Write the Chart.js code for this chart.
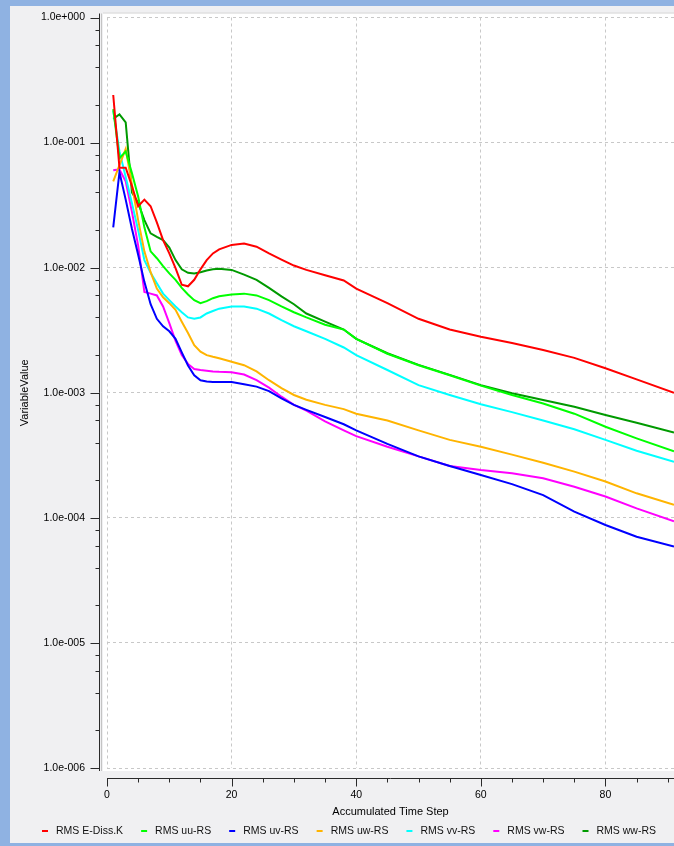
<!DOCTYPE html>
<html lang="en">
<head>
  <meta charset="UTF-8">
  <title>RMS Residuals</title>
  <script src="https://cdn.jsdelivr.net/npm/chart.js"></script>
  <style>
    html, body {
      margin: 0;
      padding: 0;
      background: #f0f0f0;
    }
    canvas {
      display: block;
    }
  </style>
</head>
<body>
  <canvas id="residuals" width="674" height="846"></canvas>

  <script>
    // accumulated time steps where residuals were sampled
    const steps = [1, 2, 3, 4, 5, 6, 7, 8, 9, 10, 11, 12, 13, 14, 15, 16, 17, 18, 20, 22, 24, 26, 28, 30,
                   32, 35, 38, 40, 45, 50, 55, 60, 65, 70, 75, 80, 85, 91];

    const eDissK = [0.24, 0.063, 0.063, 0.045, 0.031, 0.035, 0.031, 0.023, 0.0166, 0.013, 0.0099, 0.0073,
                    0.0071, 0.0080, 0.0097, 0.0115, 0.013, 0.014, 0.0152, 0.0156, 0.0147, 0.013, 0.0116, 0.0104,
                    0.0096, 0.0087, 0.0079, 0.0068, 0.0052, 0.0039, 0.0032, 0.0028, 0.0025, 0.0022, 0.0019,
                    0.00157, 0.00128, 0.00100];
    const uuRS = [0.185, 0.075, 0.085, 0.057, 0.037, 0.021, 0.0135, 0.0119, 0.0103, 0.0090, 0.0080, 0.0069,
                  0.0061, 0.0055, 0.0052, 0.0054, 0.0057, 0.0059, 0.0061, 0.0062, 0.0060, 0.0055, 0.0049, 0.0044,
                  0.0040, 0.0035, 0.0032, 0.0027, 0.00205, 0.00166, 0.00138, 0.00114, 0.00096, 0.00082, 0.00068,
                  0.000535, 0.000432, 0.00034];
    const uvRS = [0.021, 0.058, 0.035, 0.0205, 0.0127, 0.0077, 0.0051, 0.0039, 0.0034, 0.0031, 0.0027, 0.0021,
                  0.00165, 0.00138, 0.00126, 0.00123, 0.00122, 0.00122, 0.00122, 0.00117, 0.00112, 0.00103, 0.0009,
                  0.0008, 0.00073, 0.00064, 0.00056, 0.0005, 0.00039, 0.00031, 0.00026, 0.00022, 0.000186,
                  0.000152, 0.000112, 0.0000877, 0.0000706, 0.000059];
    const uwRS = [0.049, 0.066, 0.089, 0.046, 0.024, 0.0135, 0.0092, 0.0068, 0.0058, 0.0052, 0.0046, 0.0037,
                  0.0030, 0.0024, 0.00213, 0.0020, 0.00194, 0.00189, 0.00177, 0.00166, 0.00148, 0.00126, 0.00109,
                  0.00096, 0.00088, 0.0008, 0.00074, 0.00068, 0.0006, 0.0005, 0.00042, 0.00037, 0.00032,
                  0.000276, 0.000234, 0.000195, 0.000157, 0.000127];
    const vvRS = [0.18, 0.085, 0.053, 0.0327, 0.020, 0.0115, 0.0091, 0.0075, 0.0062, 0.0055, 0.0049, 0.0044,
                  0.0040, 0.0039, 0.0040, 0.0043, 0.0045, 0.0047, 0.0049, 0.0049, 0.0047, 0.0043, 0.0038, 0.0034,
                  0.0031, 0.0027, 0.0023, 0.0020, 0.00152, 0.00115, 0.00096, 0.00081, 0.0007, 0.0006, 0.00051,
                  0.00042, 0.000344, 0.00028];
    const vwRS = [0.060, 0.061, 0.049, 0.028, 0.015, 0.0064, 0.0062, 0.0060, 0.0049, 0.0036, 0.0026, 0.0020,
                  0.0017, 0.00155, 0.00152, 0.0015, 0.00148, 0.00147, 0.00146, 0.0014, 0.00126, 0.0011, 0.00093,
                  0.0008, 0.00072, 0.00059, 0.0005, 0.00045, 0.00037, 0.00031, 0.00026, 0.000241, 0.000227,
                  0.000207, 0.000177, 0.000148, 0.000119, 0.000094];
    const wwRS = [0.155, 0.168, 0.145, 0.040, 0.033, 0.024, 0.0188, 0.0176, 0.0166, 0.0145, 0.0115, 0.0097,
                  0.0091, 0.0090, 0.0092, 0.0095, 0.0097, 0.0098, 0.0096, 0.0088, 0.0080, 0.0069, 0.0059, 0.0051,
                  0.0043, 0.0037, 0.0032, 0.0027, 0.00207, 0.00167, 0.00139, 0.00115, 0.00099, 0.000875,
                  0.000774, 0.000664, 0.000576, 0.00048];

    const seriesNames = ["RMS E-Diss.K", "RMS uu-RS", "RMS uv-RS", "RMS uw-RS", "RMS vv-RS", "RMS vw-RS", "RMS ww-RS"];
    const seriesValues = [eDissK, uuRS, uvRS, uwRS, vvRS, vwRS, wwRS];
    const seriesColors = ["#ff0000", "#00ff00", "#0000ff", "#ffb400", "#00ffff", "#ff00ff", "#009a00"];

    const yTickValues = [1e-6, 1e-5, 1e-4, 1e-3, 1e-2, 1e-1, 1];
    const xTickValues = [0, 20, 40, 60, 80];
    const yMinorFactors = [2, 4, 6, 8];
    const xMinorStep = 5;

    const FONT = "'Liberation Sans', Arial, sans-serif";

    function formatExp(v) {
      const e = Math.round(Math.log10(v));
      return "1.0e" + (e < 0 ? "-" : "+") + String(Math.abs(e)).padStart(3, "0");
    }

    // window frame, grey panel and the white plot field
    const panelPlugin = {
      id: "panel",
      beforeDraw(chart) {
        const { ctx, width, height, chartArea: a } = chart;
        ctx.save();
        ctx.fillStyle = "#f0f0f2";
        ctx.fillRect(0, 0, width, height);
        ctx.fillStyle = "#8fb2e2";
        ctx.fillRect(0, 0, width, 6);
        ctx.fillRect(0, 0, 10, height);
        ctx.fillRect(0, height - 3, width, 3);
        ctx.fillStyle = "#ffffff";
        ctx.fillRect(a.left - 4, a.top - 4, width - a.left + 4, a.bottom - a.top + 7);
        ctx.fillStyle = "#d8d8d8";
        ctx.fillRect(a.left - 4, a.top - 5, width - a.left + 4, 1);
        ctx.restore();
      }
    };

    // axis lines with major/minor tick marks, sitting outside the plot field
    const axesPlugin = {
      id: "axesTicks",
      afterDraw(chart) {
        const { ctx, chartArea: a, scales } = chart;
        const x = scales.x, y = scales.y;
        ctx.save();
        ctx.lineWidth = 1;

        const ax = a.left - 7.5;
        ctx.strokeStyle = "#c4c4c4";
        ctx.beginPath();
        ctx.moveTo(ax + 2, a.top - 4);
        ctx.lineTo(ax + 2, a.bottom + 3);
        ctx.stroke();

        ctx.strokeStyle = "#2a2a2a";
        ctx.beginPath();
        ctx.moveTo(ax, a.top - 4);
        ctx.lineTo(ax, a.bottom + 3);
        yTickValues.forEach(v => {
          const py = Math.round(y.getPixelForValue(v)) + 0.5;
          ctx.moveTo(ax - 9, py);
          ctx.lineTo(ax, py);
        });
        for (let e = -6; e < 0; e++) {
          yMinorFactors.forEach(f => {
            const py = Math.round(y.getPixelForValue(f * Math.pow(10, e))) + 0.5;
            ctx.moveTo(ax - 4, py);
            ctx.lineTo(ax, py);
          });
        }

        const ay = a.bottom + 10.5;
        ctx.moveTo(a.left, ay);
        ctx.lineTo(a.right, ay);
        for (let v = 0; v <= x.max; v += xMinorStep) {
          const px = Math.round(x.getPixelForValue(v)) + 0.5;
          const len = xTickValues.includes(v) ? 8 : 4;
          ctx.moveTo(px, ay);
          ctx.lineTo(px, ay + len);
        }
        ctx.stroke();
        ctx.restore();
      }
    };

    // legend row along the bottom edge
    const legendRowPlugin = {
      id: "legendRow",
      afterDraw(chart) {
        const { ctx } = chart;
        const sets = chart.data.datasets;
        ctx.save();
        ctx.font = "10.5px " + FONT;
        ctx.textBaseline = "middle";
        const widths = sets.map(d => ctx.measureText(d.label).width);
        const mark = 6, gapText = 8;
        const startX = 42, endX = 656;
        const used = widths.reduce((s, w) => s + w + mark + gapText, 0);
        const gap = (endX - startX - used) / (sets.length - 1);
        let cx = startX;
        const cy = 831;
        sets.forEach((d, i) => {
          ctx.fillStyle = d.borderColor;
          ctx.fillRect(cx, cy - 1, mark, 2);
          ctx.fillStyle = "#111";
          ctx.fillText(d.label, cx + mark + gapText, cy + 0.5);
          cx += mark + gapText + widths[i] + gap;
        });
        ctx.restore();
      }
    };

    const datasets = seriesNames.map((name, i) => ({
      label: name,
      data: steps.map((s, j) => ({ x: s, y: seriesValues[i][j] })),
      borderColor: seriesColors[i],
      backgroundColor: seriesColors[i],
      borderWidth: 2,
      pointRadius: 0,
      tension: 0,
      fill: false
    }));

    new Chart(document.getElementById("residuals").getContext("2d"), {
      type: "line",
      data: { datasets: datasets },
      options: {
        responsive: false,
        animation: false,
        devicePixelRatio: 1,
        layout: { padding: { top: 17.5, right: 0, bottom: 0, left: 0 } },
        plugins: {
          legend: { display: false },
          tooltip: { enabled: false }
        },
        scales: {
          x: {
            type: "linear",
            min: 0,
            max: 91,
            afterBuildTicks: s => { s.ticks = xTickValues.map(v => ({ value: v })); },
            afterFit: s => {
              s.height = 78;
              s.paddingLeft = 0;
              s.paddingRight = 0;
            },
            grid: { color: "#c8c8c8", lineWidth: 1, drawTicks: false },
            border: { display: false, dash: [3, 3] },
            ticks: {
              padding: 21,
              maxRotation: 0,
              autoSkip: false,
              color: "#000",
              font: { family: FONT, size: 10.5 }
            },
            title: {
              display: true,
              text: "Accumulated Time Step",
              color: "#000",
              font: { family: FONT, size: 11 },
              padding: { top: 0, bottom: 27 }
            }
          },
          y: {
            type: "logarithmic",
            min: 1e-6,
            max: 1,
            afterBuildTicks: s => { s.ticks = yTickValues.map(v => ({ value: v })); },
            afterFit: s => {
              s.width = 107;
              s.paddingTop = 0;
              s.paddingBottom = 0;
            },
            grid: { color: "#c8c8c8", lineWidth: 1, drawTicks: false },
            border: { display: false, dash: [3, 3] },
            ticks: {
              padding: 22,
              autoSkip: false,
              color: "#000",
              font: { family: FONT, size: 10.5 },
              callback: v => formatExp(v)
            },
            title: {
              display: true,
              text: "VariableValue",
              color: "#000",
              font: { family: FONT, size: 11 },
              padding: { top: 18, bottom: 0 }
            }
          }
        }
      },
      plugins: [panelPlugin, axesPlugin, legendRowPlugin]
    });
  </script>
</body>
</html>
